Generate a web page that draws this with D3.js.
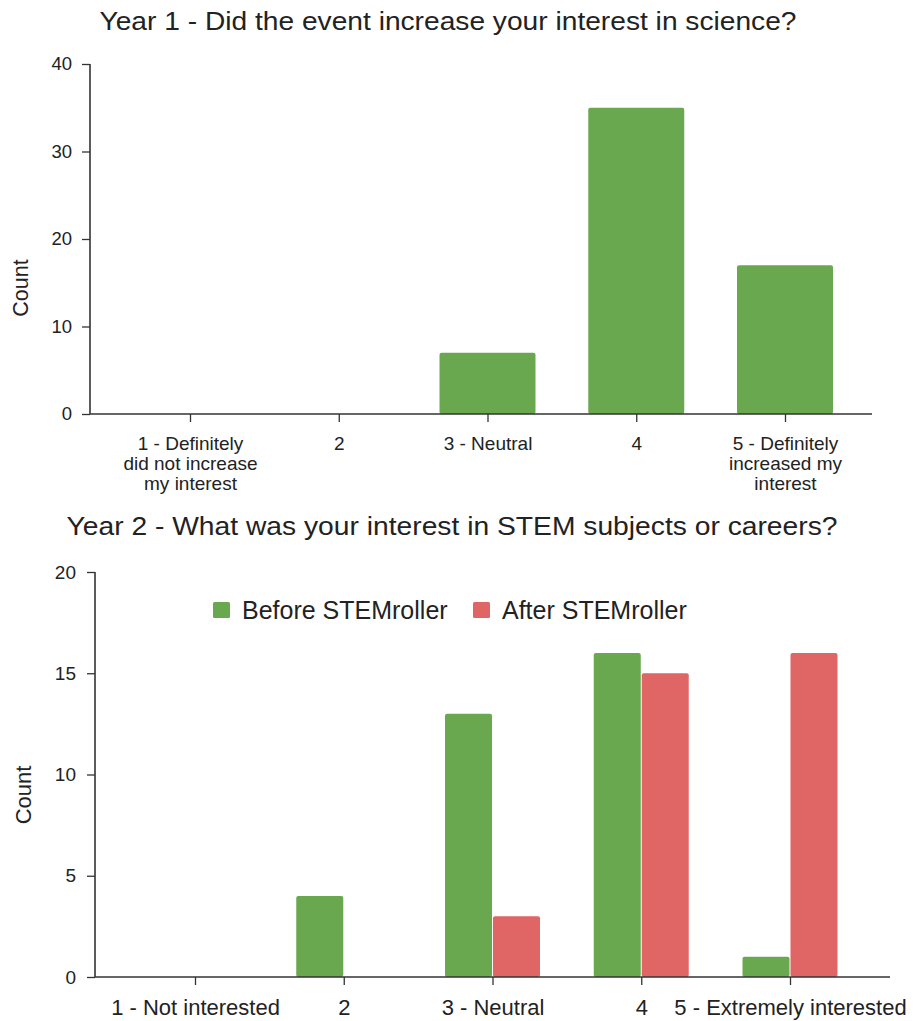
<!DOCTYPE html>
<html>
<head>
<meta charset="utf-8">
<script src="https://cdn.jsdelivr.net/npm/d3@7"></script>
<style>
  html, body { margin: 0; padding: 0; background: #fff; }
  svg { display: block; font-family: "Liberation Sans", Arial, sans-serif; }
</style>
</head>
<body>
<svg id="chart" width="918" height="1021"></svg>
<script>
// ---- Data ----
const year1Title = "Year 1 - Did the event increase your interest in science?";
const year1Categories = [
  "1 - Definitely did not increase my interest",
  "2",
  "3 - Neutral",
  "4",
  "5 - Definitely increased my interest"
];
const year1LabelLines = [
  ["1 - Definitely", "did not increase", "my interest"],
  ["2"],
  ["3 - Neutral"],
  ["4"],
  ["5 - Definitely", "increased my", "interest"]
];
const year1Counts = [0, 0, 7, 35, 17];
const year1Ticks = [0, 10, 20, 30, 40];

const year2Title = "Year 2 - What was your interest in STEM subjects or careers?";
const year2Categories = ["1 - Not interested", "2", "3 - Neutral", "4", "5 - Extremely interested"];
const year2Series = ["Before STEMroller", "After STEMroller"];
const year2Before = [0, 4, 13, 16, 1];
const year2After = [0, 0, 3, 15, 16];
const year2Ticks = [0, 5, 10, 15, 20];

const green = "#6aa84f";
const red = "#e06666";
const textColor = "#222222";
const axisColor = "#333333";

const svg = d3.select("#chart");

function styleAxis(g) {
  g.selectAll(".tick line").attr("stroke", axisColor).attr("stroke-width", 1.3);
  g.selectAll(".tick text").attr("fill", textColor).attr("font-family", "Liberation Sans, Arial, sans-serif");
  g.select(".domain").remove();
}

// ================= Chart 1 =================
{
  const left = 90, right = 872, top = 64, bottom = 414;
  const x = d3.scalePoint().domain(year1Categories).range([190, 785]);
  const y = d3.scaleLinear().domain([0, 40]).range([bottom, top]);
  const barW = 96;

  svg.append("text")
    .attr("x", 448).attr("y", 30)
    .attr("text-anchor", "middle")
    .attr("font-size", 25)
    .attr("fill", textColor)
    .attr("textLength", 697).attr("lengthAdjust", "spacingAndGlyphs")
    .text(year1Title);

  // bars
  svg.append("g").selectAll("rect")
    .data(year1Counts.map((v, i) => ({ c: year1Categories[i], v })).filter(d => d.v > 0))
    .join("rect")
    .attr("x", d => x(d.c) - barW / 2)
    .attr("y", d => y(d.v))
    .attr("width", barW)
    .attr("height", d => y(0) - y(d.v))
    .attr("rx", 2)
    .attr("fill", green);

  // y axis
  const ya = svg.append("g").attr("transform", `translate(${left},0)`)
    .call(d3.axisLeft(y).tickValues(year1Ticks).tickSize(8).tickPadding(10));
  ya.selectAll(".tick text").attr("font-size", 18.5);
  styleAxis(ya);
  svg.append("line").attr("x1", left).attr("x2", left).attr("y1", top).attr("y2", bottom)
    .attr("stroke", axisColor).attr("stroke-width", 1.6);

  // x axis
  const xa = svg.append("g").attr("transform", `translate(0,${bottom})`)
    .call(d3.axisBottom(x).tickSize(8).tickPadding(0).tickFormat(() => ""));
  styleAxis(xa);
  xa.selectAll(".tick").each(function (d, i) {
    const t = d3.select(this).select("text").text(null)
      .attr("font-size", 19).attr("y", 0).attr("dy", null);
    year1LabelLines[i].forEach((ln, k) => {
      t.append("tspan").attr("x", 0).attr("y", 36 + k * 20).text(ln);
    });
  });
  svg.append("line").attr("x1", left).attr("x2", right).attr("y1", bottom).attr("y2", bottom)
    .attr("stroke", axisColor).attr("stroke-width", 1.6);

  svg.append("text")
    .attr("transform", `translate(28,288) rotate(-90)`)
    .attr("text-anchor", "middle")
    .attr("font-size", 21.5)
    .attr("fill", textColor)
    .text("Count");
}

// ================= Chart 2 =================
{
  const left = 95, right = 890, top = 572, bottom = 977;
  const x = d3.scalePoint().domain(year2Categories).range([195, 790]);
  const inner = d3.scaleBand().domain(year2Series).range([-47.5, 47.5]).paddingInner(0.02);
  const y = d3.scaleLinear().domain([0, 20]).range([bottom, top]);
  const color = d3.scaleOrdinal().domain(year2Series).range([green, red]);

  svg.append("text")
    .attr("x", 452).attr("y", 535)
    .attr("text-anchor", "middle")
    .attr("font-size", 25)
    .attr("fill", textColor)
    .attr("textLength", 771).attr("lengthAdjust", "spacingAndGlyphs")
    .text(year2Title);

  const rows = [];
  year2Categories.forEach((c, i) => {
    rows.push({ c, s: year2Series[0], v: year2Before[i] });
    rows.push({ c, s: year2Series[1], v: year2After[i] });
  });

  svg.append("g").selectAll("rect")
    .data(rows.filter(d => d.v > 0))
    .join("rect")
    .attr("x", d => x(d.c) + inner(d.s))
    .attr("y", d => y(d.v))
    .attr("width", inner.bandwidth())
    .attr("height", d => y(0) - y(d.v))
    .attr("rx", 2)
    .attr("fill", d => color(d.s));

  const ya = svg.append("g").attr("transform", `translate(${left},0)`)
    .call(d3.axisLeft(y).tickValues(year2Ticks).tickSize(8).tickPadding(11));
  ya.selectAll(".tick text").attr("font-size", 19);
  styleAxis(ya);
  svg.append("line").attr("x1", left).attr("x2", left).attr("y1", top).attr("y2", bottom)
    .attr("stroke", axisColor).attr("stroke-width", 1.6);

  const xa = svg.append("g").attr("transform", `translate(0,${bottom})`)
    .call(d3.axisBottom(x).tickSize(8).tickPadding(0));
  styleAxis(xa);
  xa.selectAll(".tick text").attr("font-size", 22).attr("y", 38).attr("dy", null);
  svg.append("line").attr("x1", left).attr("x2", right).attr("y1", bottom).attr("y2", bottom)
    .attr("stroke", axisColor).attr("stroke-width", 1.6);

  svg.append("text")
    .attr("transform", `translate(31,795) rotate(-90)`)
    .attr("text-anchor", "middle")
    .attr("font-size", 22)
    .attr("fill", textColor)
    .text("Count");

  // legend
  const legendX = [213, 473];
  const lg = svg.append("g").selectAll("g").data(year2Series).join("g")
    .attr("transform", (d, i) => `translate(${legendX[i]},602)`);
  lg.append("rect").attr("width", 17).attr("height", 16).attr("rx", 1.5)
    .attr("fill", d => color(d));
  lg.append("text").attr("x", 29).attr("y", 8).attr("dy", "0.35em")
    .attr("font-size", 25).attr("fill", textColor).text(d => d);
}
</script>
</body>
</html>
